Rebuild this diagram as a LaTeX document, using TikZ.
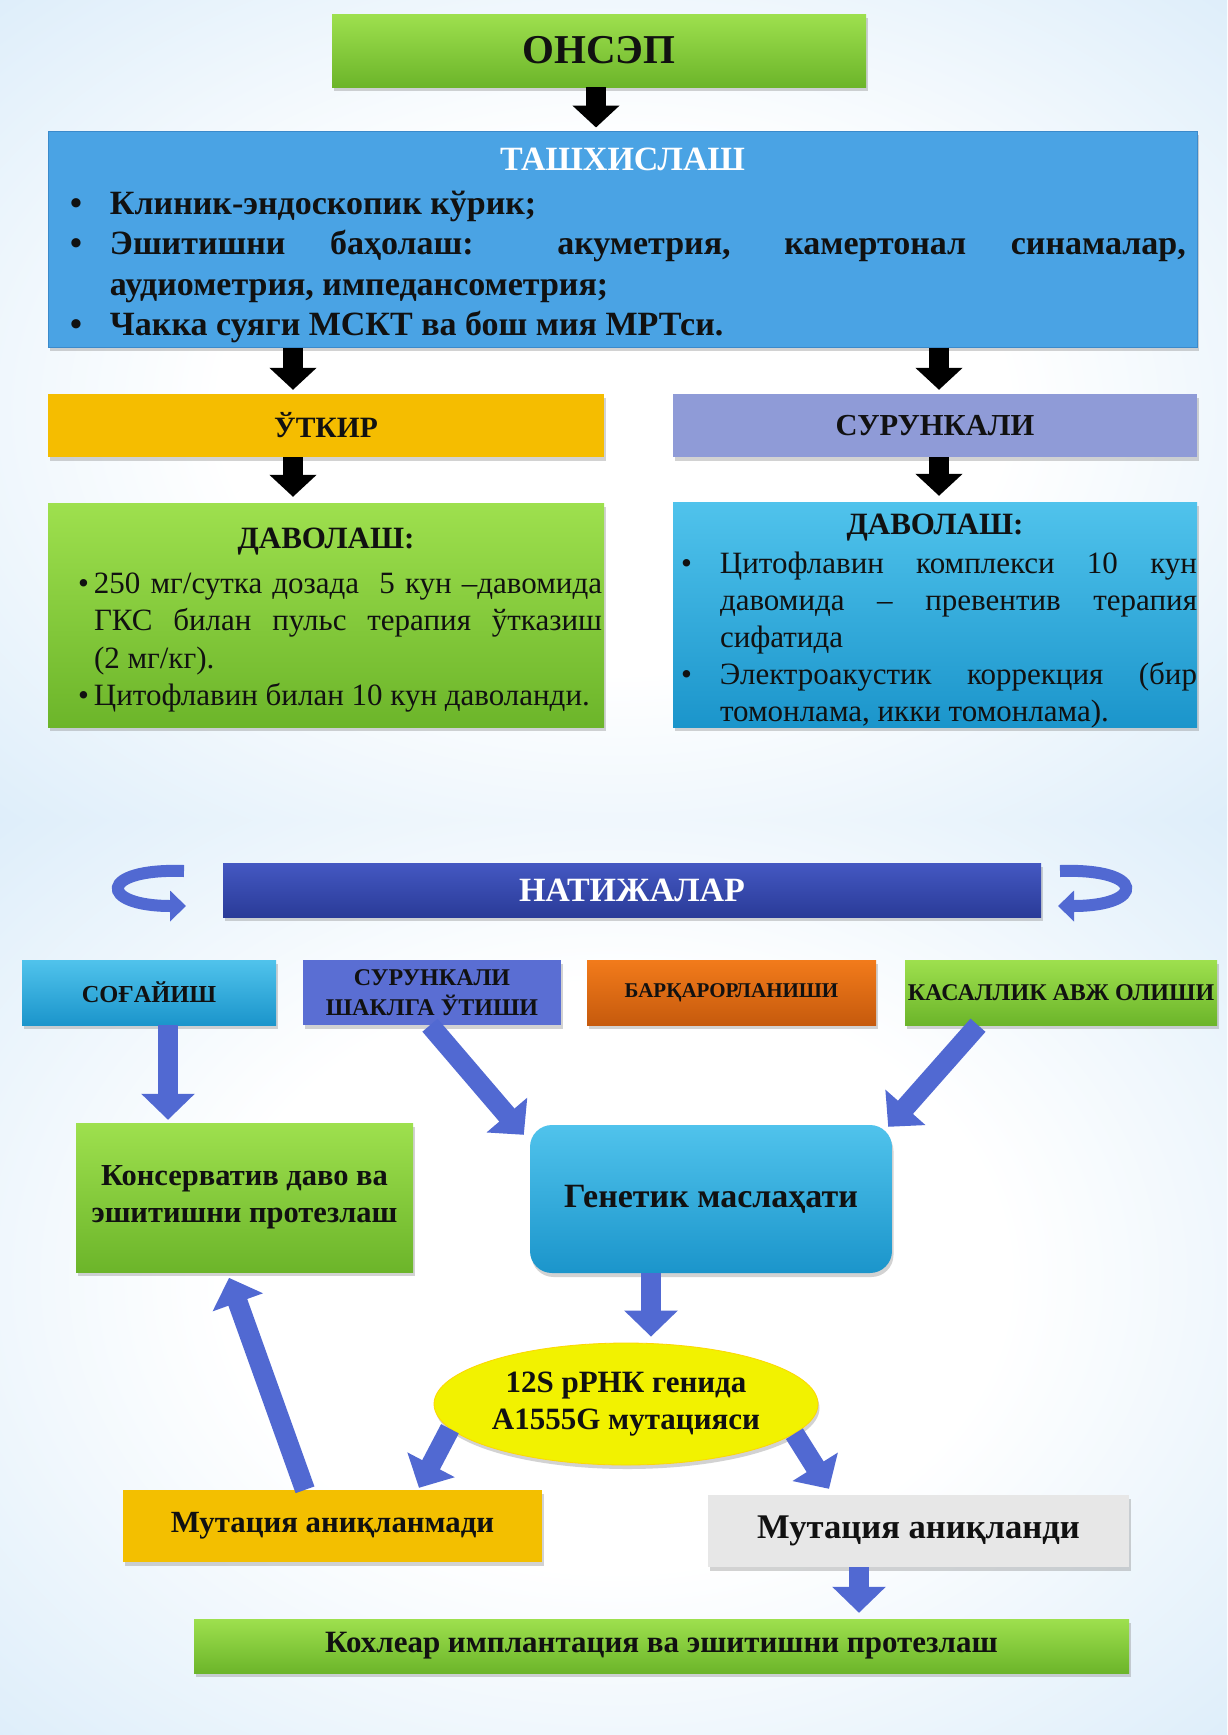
\documentclass[tikz,border=0pt]{standalone}
\usepackage{fontspec}
\setmainfont{Liberation Serif}
\usetikzlibrary{arrows.meta,shapes.geometric,shadows,calc}

\definecolor{bgA}{HTML}{D3E8F8}
\definecolor{bgB}{HTML}{AFD3F0}
\definecolor{grnT}{HTML}{9EE04E}
\definecolor{grnB}{HTML}{6CB52A}
\definecolor{tashblue}{HTML}{4AA3E4}
\definecolor{tashedge}{HTML}{3B8ACB}
\definecolor{gold}{HTML}{F5BD00}
\definecolor{lav}{HTML}{8F9BD7}
\definecolor{cyT}{HTML}{50C3EC}
\definecolor{cyB}{HTML}{1B95CB}
\definecolor{navT}{HTML}{4458C2}
\definecolor{navB}{HTML}{2A3B98}
\definecolor{vio}{HTML}{5A6ED3}
\definecolor{orT}{HTML}{F27B1B}
\definecolor{orB}{HTML}{C65A0D}
\definecolor{arrblue}{HTML}{5169D2}
\definecolor{ellyel}{HTML}{F2F200}
\definecolor{mgold}{HTML}{F3BF00}
\definecolor{mgray}{HTML}{E7E7E7}
\definecolor{txt}{HTML}{111111}

\pgfdeclareradialshading{bgrad}{\pgfpoint{0bp}{0bp}}{color(0bp)=(white); color(16bp)=(white); color(42bp)=(bgA); color(71bp)=(bgB)}

\newcommand\bitem[3]{\par\noindent\hangindent=\dimexpr#1+#2\relax\hangafter=1\hspace*{#1}\makebox[#2][l]{\textbullet}#3}

\tikzset{
  x=1pt, y=-1pt,
  shbox/.style={draw=none, inner sep=0pt, text=txt,
    drop shadow={opacity=0.35, shadow xshift=1.5pt, shadow yshift=-4pt}},
  grnbox/.style={shbox, top color=grnT, bottom color=grnB},
  blackarr/.style={draw=black, line width=20pt, -{Triangle[width=46pt,length=22pt]}},
  bluearr/.style={draw=arrblue, line width=20pt, -{Triangle[width=52pt,length=26pt]}},
  curvarr/.style={draw=arrblue, line width=12pt, -{Triangle[width=30pt,length=16pt]}},
}

\begin{document}
\begin{tikzpicture}
\useasboundingbox (0,0) rectangle (1227,1735);
\shade[shading=bgrad] (0,0) rectangle (1227,820);
\shade[shading=bgrad] (0,820) rectangle (1227,1735);

% ---------- top part ----------
\node[grnbox, minimum width=534pt, minimum height=73pt,
      font=\fontsize{41}{48}\selectfont\bfseries] (onsep) at (599,50.5) {ОНСЭП};

\node[shbox, fill=tashblue, draw=tashedge, line width=1pt,
      minimum width=1149pt, minimum height=216pt,
      text width=1127pt, inner xsep=11pt, align=justify,
      font=\fontsize{34}{40.5}\selectfont\bfseries] (tash) at (622.5,239) {%
  {\centering\color{white}\fontsize{34}{38}\selectfont ТАШХИСЛАШ\par}\vspace{3pt}%
  \bitem{11pt}{40pt}{Клиник-эндоскопик кўрик;}
  \bitem{11pt}{40pt}{Эшитишни баҳолаш: акуметрия, камертонал синамалар,\linebreak аудиометрия, импедансометрия;}
  \bitem{11pt}{40pt}{Чакка суяги МСКТ ва бош мия МРТси.}\par\vspace{-13pt}};

\node[shbox, fill=gold, minimum width=556pt, minimum height=63pt,
      font=\fontsize{29.5}{34}\selectfont\bfseries] (utkir) at (326,425.5) {ЎТКИР};
\node[shbox, fill=lav, minimum width=524pt, minimum height=63pt,
      font=\fontsize{30.5}{34}\selectfont\bfseries] (surun) at (935,425.5) {СУРУНКАЛИ};

\node[grnbox, minimum width=556pt, minimum height=224pt,
      text width=552pt, inner xsep=2pt, align=justify,
      font=\fontsize{31}{37.5}\selectfont] (davL) at (326,615) {%
  {\centering\bfseries\fontsize{31}{36}\selectfont ДАВОЛАШ:\par}\vspace{7pt}%
  \bitem{28pt}{16pt}{250 мг/сутка дозада \ 5 кун –давомида\linebreak ГКС билан пульс терапия ўтказиш\linebreak (2 мг/кг).}
  \bitem{28pt}{16pt}{Цитофлавин билан 10 кун даволанди.}\par\vspace{-11pt}};

\node[shbox, top color=cyT, bottom color=cyB, minimum width=524pt, minimum height=225pt,
      text width=524pt, inner xsep=0pt, align=justify,
      font=\fontsize{31}{37}\selectfont] (davR) at (935,614.5) {%
  {\centering\bfseries\fontsize{31}{36}\selectfont ДАВОЛАШ:\par}\vspace{2pt}%
  \bitem{8pt}{39pt}{Цитофлавин комплекси 10 кун\linebreak давомида – превентив терапия\linebreak сифатида}
  \bitem{8pt}{39pt}{Электроакустик коррекция (бир\linebreak томонлама, икки томонлама).}\par\vspace{-13pt}};

\draw[blackarr, shorten >=3pt] (onsep.south -| 596,0) -- (tash.north -| 596,0);
\draw[blackarr, shorten >=4pt] (tash.south -| 293,0) -- (utkir.north -| 293,0);
\draw[blackarr, shorten >=4pt] (tash.south -| 939,0) -- (surun.north -| 939,0);
\draw[blackarr, shorten >=6pt] (utkir.south -| 293,0) -- (davL.north -| 293,0);
\draw[blackarr, shorten >=6pt] (surun.south -| 939,0) -- (davR.north -| 939,0);

% ---------- bottom part ----------
\node[shbox, top color=navT, bottom color=navB, minimum width=818pt, minimum height=54pt,
      text=white, font=\fontsize{34}{38}\selectfont\bfseries] (nat) at (632,890) {НАТИЖАЛАР};
\draw[curvarr] (184,871) .. controls (98,868) and (98,906) .. (186,906);
\draw[curvarr] (1060,871) .. controls (1146,868) and (1146,906) .. (1058,906);

\node[shbox, top color=cyT, bottom color=cyB, minimum width=254pt, minimum height=65pt,
      font=\fontsize{24.4}{28}\selectfont\bfseries] (sog) at (149,992.5) {СОҒАЙИШ};
\node[shbox, fill=vio, minimum width=258pt, minimum height=65pt, align=center,
      font=\fontsize{24}{30}\selectfont\bfseries] (sur2) at (432,992.5) {СУРУНКАЛИ\\ШАКЛГА ЎТИШИ};
\node[shbox, top color=orT, bottom color=orB, minimum width=289pt, minimum height=65pt,
      font=\fontsize{21}{28}\selectfont\bfseries] (bar) at (731.5,992.5) {БАРҚАРОРЛАНИШИ};
\node[grnbox, minimum width=312pt, minimum height=65pt,
      font=\fontsize{24}{28}\selectfont\bfseries] (kas) at (1061,992.5) {КАСАЛЛИК АВЖ ОЛИШИ};

\node[grnbox, minimum width=337pt, minimum height=149pt, align=center,
      font=\fontsize{30.5}{37}\selectfont\bfseries] (kons) at (244.5,1197.5) {Консерватив даво ва\\эшитишни протезлаш};
\node[shbox, rounded corners=22pt, top color=cyT, bottom color=cyB, minimum width=362pt, minimum height=148pt,
      font=\fontsize{34}{40}\selectfont\bfseries] (gen) at (711,1199) {Генетик маслаҳати};

\node[shbox, ellipse, fill=ellyel, draw=yellow!75!orange, line width=0.8pt,
      minimum width=384pt, minimum height=122pt, align=center,
      font=\fontsize{31}{37}\selectfont\bfseries] (ell) at (626,1404) {12S рРНК генида\\A1555G мутацияси};

\node[shbox, fill=mgold, minimum width=419pt, minimum height=72pt,
      font=\fontsize{30.8}{34}\selectfont\bfseries] (mut1) at (332.5,1526) {Мутация аниқланмади};
\node[shbox, fill=mgray, minimum width=421pt, minimum height=72pt,
      font=\fontsize{34.6}{38}\selectfont\bfseries] (mut2) at (918.5,1531) {Мутация аниқланди};
\node[grnbox, minimum width=935pt, minimum height=54pt,
      font=\fontsize{31}{36}\selectfont\bfseries] (koh) at (661.5,1646) {Кохлеар имплантация ва эшитишни протезлаш};

\draw[bluearr, shorten >=3pt] (sog.south -| 168,0) -- (kons.north -| 168,0);
\draw[bluearr] ($(sur2.south)+(-2,0)$) -- ($(gen.north west)+(-6,10)$);
\draw[bluearr] (kas.south -| 978,0) -- ($(gen.north east)+(-4,2)$);
\draw[bluearr, shorten >=6pt] (gen.south -| 651,0) -- (ell.north -| 651,0);
\draw[bluearr] (ell.188) -- ($(mut1.north -| 419,0)+(0,-2)$);
\draw[bluearr] (ell.350) -- ($(mut2.north -| 829,0)+(0,-6)$);
\draw[bluearr, shorten >=6pt] (mut1.north -| 305,0) -- (kons.south -| 227,0);
\draw[bluearr, shorten >=6pt] (mut2.south -| 859,0) -- (koh.north -| 859,0);
\end{tikzpicture}
\end{document}
